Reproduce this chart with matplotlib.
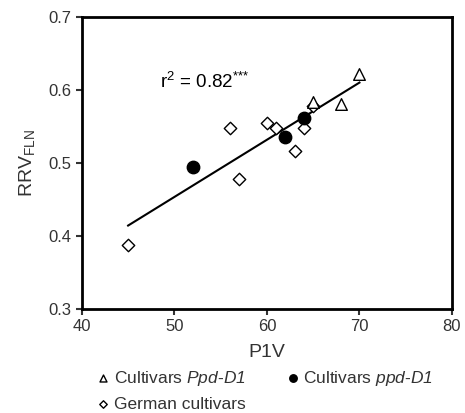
import numpy as np
import matplotlib.pyplot as plt

plt.rcParams['font.family'] = ['Liberation Sans', 'DejaVu Sans']
plt.rcParams['mathtext.fontset'] = 'custom'
plt.rcParams['mathtext.rm'] = 'Liberation Sans'
plt.rcParams['mathtext.it'] = 'Liberation Sans:italic'
plt.rcParams['mathtext.sf'] = 'Liberation Sans:italic'

# Cultivars Ppd-D1 (open triangles)
ppd_dom_x = [70, 65, 68]
ppd_dom_y = [0.622, 0.584, 0.581]
# Cultivars ppd-D1 (filled circles)
ppd_rec_x = [52, 62, 64]
ppd_rec_y = [0.495, 0.535, 0.561]
# German cultivars (open diamonds)
german_x = [45, 56, 57, 60, 61, 63, 64, 65]
german_y = [0.388, 0.548, 0.478, 0.555, 0.548, 0.517, 0.548, 0.578]

all_x = np.array(ppd_dom_x + ppd_rec_x + german_x)
all_y = np.array(ppd_dom_y + ppd_rec_y + german_y)
slope, intercept = np.polyfit(all_x, all_y, 1)

fig = plt.figure(figsize=(4.65, 4.13), dpi=100)
ax = fig.add_axes([0.176, 0.252, 0.796, 0.707])

xl = np.array([all_x.min(), all_x.max()])
ax.plot(xl, slope * xl + intercept, color='black', lw=1.5, zorder=1)

ax.scatter(ppd_dom_x, ppd_dom_y, marker='^', s=70, facecolors='white',
           edgecolors='black', linewidths=1, zorder=3,
           label='Cultivars $\\mathsf{Ppd}$-$\\mathsf{D1}$')
ax.scatter(german_x, german_y, marker='D', s=40, facecolors='white',
           edgecolors='black', linewidths=1, zorder=2, label='German cultivars')
ax.scatter(ppd_rec_x, ppd_rec_y, marker='o', s=80, color='black',
           zorder=3, label='Cultivars $\\mathsf{ppd}$-$\\mathsf{D1}$')

ax.text(48.5, 0.611, 'r$^2$ = 0.82$^{{*}{*}{*}}$', fontsize=13.5, va='center')

ax.set_xlim(40, 80)
ax.set_ylim(0.3, 0.7)
ax.set_xticks([40, 50, 60, 70, 80])
ax.set_yticks([0.3, 0.4, 0.5, 0.6, 0.7])
ax.set_yticklabels(['0.3', '0.4', '0.5', '0.6', '0.7'])
ax.tick_params(labelsize=12, width=1.5, length=4, colors='#333333', labelcolor='#333333')
for s in ax.spines.values():
    s.set_linewidth(2)
ax.set_xlabel('P1V', fontsize=14, color='#333333', labelpad=7)
ax.set_ylabel('RRV$_{\\mathrm{FLN}}$', fontsize=14, color='#333333', labelpad=8)

fig.legend(loc='lower left', bbox_to_anchor=(0.17, -0.035), ncol=2, frameon=False,
           fontsize=12.5, handletextpad=0.1, columnspacing=2.2, labelspacing=0.5,
           markerscale=0.6, handlelength=1.0, labelcolor='#333333')

fig.savefig('out.png', dpi=100)
